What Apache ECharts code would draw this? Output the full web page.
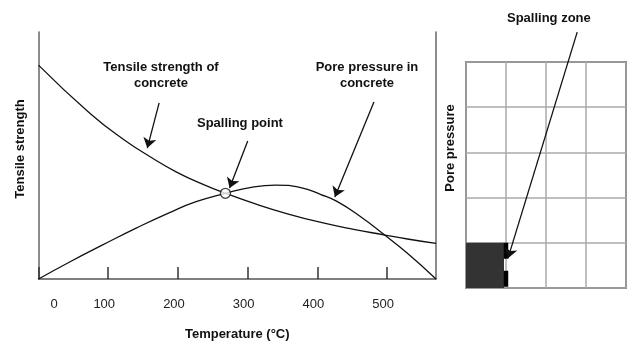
<!DOCTYPE html>
<html lang="en">
<head>
    <meta charset="UTF-8">
    <title>Spalling</title>
    <script type="text/javascript" src="https://cdn.jsdelivr.net/npm/echarts@6/dist/echarts.min.js"></script>
    <style>
        html, body { margin: 0; padding: 0; background: #fff; }
    </style>
</head>
<body>
<div id="chart" style="width: 629px;height:343px;"></div>
<script>
    // left panel: curves vs temperature
    var tempTensile = [0, 74, 122, 163, 198, 236, 268, 309, 357, 405, 452, 495, 529, 570];
    var tensile = [86.6, 67.0, 56.5, 49.0, 43.3, 38.3, 34.7, 30.6, 26.4, 22.9, 20.1, 17.9, 16.2, 14.4];
    var tempPore = [0, 44, 92, 140, 188, 226, 268, 309, 340, 376, 405, 428, 462, 495, 529, 570];
    var pore = [0, 6.8, 13.8, 20.6, 26.9, 31.3, 34.7, 37.3, 38.0, 37.0, 34.2, 31.4, 25.2, 18.1, 10.4, 0];
    var spallingPoint = [268, 34.7];
    var tickLabels = [0, 100, 200, 300, 400, 500];
    // arrows [from, to] in data units
    var arrowsLeft = [
        [[173, 71.3], [156, 53.0]],
        [[300, 55.9], [274, 36.8]],
        [[481, 71.7], [425, 33.2]]
    ];
    // right panel: grid cells
    var zoneArea = [[0, 0], [0.95, 1]];
    var zoneMark = [[1, 1], [1, 0]];
    var arrowRight = [[2.78, 5.66], [1.05, 0.66]];

    var FONT = 'Liberation Sans';
    var INK = '#111';

    function zip(xs, ys) {
        var out = [];
        for (var i = 0; i < xs.length; i++) out.push([xs[i], ys[i]]);
        return out;
    }

    var option = {
        animation: false,
        textStyle: {fontFamily: FONT},
        grid: [
            {left: 38.5, top: 32, right: 193, bottom: 64, outerBoundsMode: 'none'},
            {left: 466, top: 62, right: 3, bottom: 55, outerBoundsMode: 'none', show: true, borderColor: '#333', borderWidth: 1.5}
        ],
        xAxis: [{
            gridIndex: 0, type: 'value', min: 0, max: 570, interval: 100,
            name: 'Temperature (°C)', nameLocation: 'middle', nameGap: 49,
            nameTextStyle: {fontFamily: FONT, fontWeight: 'bold', fontSize: 13, color: INK},
            axisLine: {lineStyle: {color: '#555', width: 1.5}},
            axisTick: {inside: true, length: 12, lineStyle: {color: '#333', width: 1.5}},
            axisLabel: {
                margin: 19, fontSize: 13, color: '#222', showMaxLabel: false,
                padding: [0, 8, 0, 0],
                formatter: function (v) {
                    if (tickLabels.indexOf(v) < 0) return '';
                    return v === 0 ? '{z|0}' : String(v);
                },
                rich: {z: {padding: [0, 0, 0, 39], fontSize: 13, color: '#222'}}
            },
            splitLine: {show: false}
        }, {
            gridIndex: 1, type: 'value', min: 0, max: 4, interval: 1,
            axisLine: {show: false}, axisTick: {show: false}, axisLabel: {show: false},
            splitLine: {lineStyle: {color: '#aaa', width: 1.5}}
        }],
        yAxis: [{
            gridIndex: 0, type: 'value', min: 0, max: 100,
            name: 'Tensile strength', nameLocation: 'middle', nameGap: 12,
            nameTextStyle: {fontFamily: FONT, fontWeight: 'bold', fontSize: 13, color: INK, padding: [0, 0, 0, 13]},
            axisLine: {show: true, lineStyle: {color: '#666', width: 1.5}},
            axisTick: {show: false}, axisLabel: {show: false}, splitLine: {show: false}
        }, {
            gridIndex: 0, type: 'value', min: 0, max: 100, position: 'right',
            axisLine: {show: true, lineStyle: {color: '#666', width: 1.5}},
            axisTick: {show: false}, axisLabel: {show: false}, splitLine: {show: false}
        }, {
            gridIndex: 1, type: 'value', min: 0, max: 5, interval: 1,
            name: 'Pore pressure', nameLocation: 'middle', nameGap: 9,
            nameTextStyle: {fontFamily: FONT, fontWeight: 'bold', fontSize: 13, color: INK, padding: [0, 0, 0, 54]},
            axisLine: {show: false}, axisTick: {show: false}, axisLabel: {show: false},
            splitLine: {lineStyle: {color: '#aaa', width: 1.5}}
        }],
        series: [{
            name: 'Tensile strength of concrete', type: 'line', xAxisIndex: 0, yAxisIndex: 0,
            data: zip(tempTensile, tensile), smooth: 0.5, showSymbol: false,
            lineStyle: {color: INK, width: 1.3}, silent: true
        }, {
            name: 'Pore pressure in concrete', type: 'line', xAxisIndex: 0, yAxisIndex: 0,
            data: zip(tempPore, pore), smooth: 0.5, showSymbol: false,
            lineStyle: {color: INK, width: 1.3}, silent: true
        }, {
            name: 'Spalling point', type: 'scatter', xAxisIndex: 0, yAxisIndex: 0,
            data: [spallingPoint], symbolSize: 10, z: 5,
            itemStyle: {color: '#fff', borderColor: INK, borderWidth: 1.3}, silent: true
        }, {
            type: 'lines', coordinateSystem: 'cartesian2d', xAxisIndex: 0, yAxisIndex: 0,
            data: arrowsLeft.map(function (a) { return {coords: a}; }),
            symbol: ['none', 'arrow'], symbolSize: 10, clip: false, silent: true,
            lineStyle: {color: INK, width: 1.3, opacity: 1}, z: 6
        }, {
            name: 'Spalling zone', type: 'line', xAxisIndex: 1, yAxisIndex: 2,
            data: zoneMark, showSymbol: false, silent: true,
            lineStyle: {color: '#000', width: 4.5, type: [16, 12]},
            markArea: {
                silent: true,
                itemStyle: {color: '#333'},
                data: [[{coord: zoneArea[0]}, {coord: zoneArea[1]}]]
            }
        }, {
            type: 'lines', coordinateSystem: 'cartesian2d', xAxisIndex: 1, yAxisIndex: 2,
            data: [{coords: arrowRight}],
            symbol: ['none', 'arrow'], symbolSize: 10, clip: false, silent: true,
            lineStyle: {color: INK, width: 1.3, opacity: 1}, z: 6
        }],
        graphic: [
            {type: 'text', left: 161 - 60, top: 59, style: {text: 'Tensile strength of\nconcrete', width: 120, textAlign: 'center', font: 'bold 13px ' + FONT, lineHeight: 16, fill: INK}},
            {type: 'text', left: 247 - 50, top: 117, style: {text: 'Spalling point', width: 100, textAlign: 'center', font: 'bold 13px ' + FONT, fill: INK}},
            {type: 'text', left: 367 - 60, top: 59, style: {text: 'Pore pressure in\nconcrete', width: 120, textAlign: 'center', font: 'bold 13px ' + FONT, lineHeight: 16, fill: INK}},
            {type: 'text', left: 557 - 50, top: 12, style: {text: 'Spalling zone', width: 100, textAlign: 'center', font: 'bold 13px ' + FONT, fill: INK}}
        ]
    };

    var myChart = echarts.init(document.getElementById('chart'));
    myChart.setOption(option);
</script>
</body>
</html>
